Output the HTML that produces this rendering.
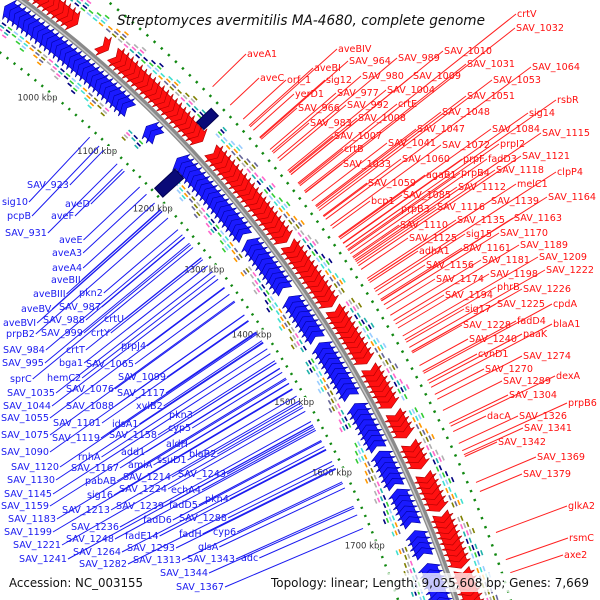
<!DOCTYPE html>
<html><head><meta charset="utf-8">
<style>
html,body{margin:0;padding:0;background:#fff;width:600px;height:600px;overflow:hidden;}
svg{display:block;overflow:hidden;}
.lbl{font-family:"DejaVu Sans","Liberation Sans",sans-serif;font-size:9.6px;}
</style></head>
<body>
<svg id="map" width="600" height="600" viewBox="0 0 600 600" xmlns="http://www.w3.org/2000/svg">
<defs><clipPath id="cl"><rect x="0" y="0" width="600" height="600"/></clipPath></defs>
<rect x="0" y="0" width="600" height="600" fill="#fff"/>
<g clip-path="url(#cl)">
<g id="features"></g>
<g id="genes"></g>
<path id="backbone" fill="none" stroke="#8a8a8a" stroke-width="6"/>
<path id="backbone-hi" fill="none" stroke="#c8c8c8" stroke-width="1.5"/>
<g id="ticks"></g>
<g id="labels"></g>
</g>
<text x="117" y="25" textLength="368" lengthAdjust="spacingAndGlyphs" font-family="DejaVu Sans, Liberation Sans, sans-serif" font-style="italic" font-size="14.5" fill="#111">Streptomyces avermitilis MA-4680, complete genome</text>
<rect x="5" y="573" width="142" height="19" fill="#fff" fill-opacity="0.75"/>
<text x="9" y="587" textLength="134" lengthAdjust="spacingAndGlyphs" font-family="DejaVu Sans, Liberation Sans, sans-serif" font-size="12" fill="#111">Accession: NC_003155</text>
<rect x="267" y="573" width="326" height="19" fill="#fff" fill-opacity="0.75"/>
<text x="271" y="587" textLength="318" lengthAdjust="spacingAndGlyphs" font-family="DejaVu Sans, Liberation Sans, sans-serif" font-size="12" fill="#111">Topology: linear; Length: 9,025,608 bp; Genes: 7,669</text>
</svg>
<script>
// ---- data ----
const genomeKbp = 9025.608;
const forwardBlocks = [[905,975],[1015,1022],[1035,1180],[1195,1330],[1336,1420],[1428,1500],[1508,1560],[1568,1600],[1608,1640],[1648,1690],[1698,1760],[1768,1810]];
const reverseBlocks = [[900,1095],[1128,1142],[1175,1300],[1308,1380],[1388,1450],[1458,1530],[1538,1600],[1608,1650],[1658,1700],[1708,1740],[1748,1810]];
const outerFeatureBlocks = [[900,1000],[1010,1160],[1185,1260],[1270,1420],[1430,1560],[1575,1700],[1710,1810]];
const innerFeatureBlocks = [[900,1080],[1110,1130],[1185,1320],[1330,1450],[1465,1560],[1580,1700],[1720,1810]];
const bigBlockKbp = [[1160,1172,'outer'],[1183,1198,'inner']];
const tickKbp = [1000,1100,1200,1300,1400,1500,1600,1700];
const tickLabels = ['1000 kbp','1100 kbp','1200 kbp','1300 kbp','1400 kbp','1500 kbp','1600 kbp','1700 kbp'];
const redNames = ['crtV','SAV_1032','aveBIV','SAV_1010','SAV_964','SAV_989','aveBI','SAV_1031','SAV_1064','aveA1','aveC','orf_1','sig12','SAV_980','SAV_1009','SAV_1053','yerD1','SAV_977','SAV_1004','SAV_1051','rsbR','SAV_966','SAV_992','crtE','SAV_1048','sig14','SAV_983','SAV_1008','SAV_1007','SAV_1047','SAV_1084','SAV_1115','crtB','SAV_1041','SAV_1072','prpI2','SAV_1033','SAV_1060','prpF','fadD3','SAV_1121','SAV_1059','agaB1','prpB4','SAV_1118','clpP4','bcp1','SAV_1085','SAV_1112','melC1','prpB3','SAV_1116','SAV_1139','SAV_1164','SAV_1110','SAV_1135','SAV_1163','SAV_1125','sig15','SAV_1170','adhA1','SAV_1161','SAV_1189','SAV_1156','SAV_1181','SAV_1209','SAV_1174','SAV_1198','SAV_1222','SAV_1194','phrB','SAV_1226','SAV_1225','cpdA','sig17','SAV_1228','fadD4','blaA1','SAV_1240','paaK','cvnD1','SAV_1274','SAV_1270','dexA','SAV_1289','SAV_1304','prpB6','dacA','SAV_1326','SAV_1341','SAV_1342','SAV_1369','SAV_1379','glkA2','rsmC','axe2'];
const redX = [517,516,338,444,349,398,314,467,532,247,260,287,326,362,413,493,295,337,387,467,557,298,347,398,442,529,310,358,334,417,492,542,344,388,442,500,343,402,463,488,522,368,426,461,496,557,371,403,458,517,401,437,491,548,400,457,514,409,466,500,419,463,520,426,482,539,436,490,546,445,497,523,497,553,465,463,517,553,469,523,478,523,485,556,503,509,568,487,519,524,498,537,523,568,569,564];
const redY = [17,31,52,54,64,61,71,67,70,57,81,83,83,79,79,83,97,96,93,99,103,111,108,107,115,116,126,121,139,132,132,136,152,146,148,147,167,162,162,162,159,186,178,176,173,175,204,198,190,187,212,210,204,200,228,223,221,241,237,236,254,251,248,268,263,260,282,277,273,298,290,292,307,307,312,328,324,327,342,337,357,359,372,379,384,398,406,419,419,431,445,460,477,509,541,558];
const blueNames = ['SAV_923','sig10','aveD','pcpB','aveF','SAV_931','aveE','aveA3','aveA4','aveBII','aveBIII','pkn2','aveBV','SAV_987','aveBVI','SAV_988','crtU','prpB2','SAV_999','crtY','SAV_984','crtT','prpJ4','SAV_995','bga1','SAV_1065','sprC','hemC2','SAV_1099','SAV_1035','SAV_1076','SAV_1117','SAV_1044','SAV_1088','xylB2','SAV_1055','SAV_1101','idsA1','pkn3','SAV_1075','SAV_1119','SAV_1158','cyp5','SAV_1090','rnhA','add1','aldH','SAV_1120','SAV_1167','amiA','ssuD1','blaB2','SAV_1130','pabAB','SAV_1214','SAV_1243','SAV_1145','sig16','SAV_1224','echA4','SAV_1159','SAV_1239','fadD5','pkn4','SAV_1213','SAV_1183','fadD6','SAV_1288','SAV_1236','SAV_1199','SAV_1248','fadE14','fadH','cyp6','SAV_1221','SAV_1293','glsA','SAV_1264','SAV_1241','SAV_1282','SAV_1313','SAV_1343','adc','SAV_1344','SAV_1367'];
const blueX = [27,2,65,7,51,5,59,52,52,51,33,79,21,59,3,43,104,6,41,91,3,66,121,2,59,86,10,47,118,7,66,117,3,66,136,1,53,112,169,1,52,109,168,1,78,121,166,11,71,128,157,189,7,85,123,178,4,87,119,171,1,116,169,205,62,8,143,179,71,4,66,125,179,213,13,127,198,73,19,79,133,187,241,160,176];
const blueY = [188,205,207,219,219,236,243,256,271,283,297,296,312,310,326,323,322,337,336,336,353,353,349,366,366,367,382,381,380,396,392,396,409,409,409,421,426,427,418,438,441,438,431,455,460,455,447,470,471,468,463,457,483,484,480,477,497,498,492,493,509,509,508,502,513,522,523,521,530,535,542,539,537,535,548,551,550,555,562,567,563,562,561,576,590];

// ---- geometry ----
const CX = -700, CY = 980, R = 1217;
const NS = 'http://www.w3.org/2000/svg';
function ang(k){ return k*360/genomeKbp*Math.PI/180; }
function pt(r,k){ const a=ang(k); return [CX + r*Math.sin(a), CY - r*Math.cos(a)]; }
function arcD(r,k1,k2){ const p=pt(r,k1), q=pt(r,k2); return `M${p[0].toFixed(2)},${p[1].toFixed(2)} A${r},${r} 0 0 1 ${q[0].toFixed(2)},${q[1].toFixed(2)}`; }
function mk(tag, parent){ const e=document.createElementNS(NS,tag); parent.appendChild(e); return e; }

document.getElementById('backbone').setAttribute('d', arcD(R, 880, 1840));
document.getElementById('backbone-hi').setAttribute('d', arcD(R-1, 880, 1840));

const genesG = document.getElementById('genes');
const featG = document.getElementById('features');

function arrow(r1, r2, k1, k2, dir, fill, stroke, name){
  const rm=(r1+r2)/2, h=(k2-k1)*0.55;
  let pts;
  if(dir>0){
    pts=[pt(r2,k1),pt(r2,k2-h),pt(r2+4,k2-h),pt(rm,k2),pt(r1-4,k2-h),pt(r1,k2-h),pt(r1,k1),pt(rm,k1+h*0.7)];
  } else {
    pts=[pt(r2,k2),pt(r2,k1+h),pt(r2+4,k1+h),pt(rm,k1),pt(r1-4,k1+h),pt(r1,k1+h),pt(r1,k2),pt(rm,k2-h*0.7)];
  }
  const p=mk('polygon', genesG);
  p.setAttribute('points', pts.map(q=>q[0].toFixed(1)+','+q[1].toFixed(1)).join(' '));
  p.setAttribute('fill', fill);
  p.setAttribute('stroke', stroke);
  p.setAttribute('stroke-width','0.6');
  
  
}

forwardBlocks.forEach(b=>{
  for(let k=b[0]; k+6<=b[1]+0.01; k+=7){
    arrow(R+7, R+23, k, k+13, 1, '#ff1010', '#b00000', 'forward-gene');
  }
});
reverseBlocks.forEach(b=>{
  for(let k=b[1]-13; k>=b[0]-6; k-=7){
    arrow(R-23, R-7, k, k+13, -1, '#1a1aff', '#0000a0', 'reverse-gene');
  }
});

bigBlockKbp.forEach(b=>{
  const r1 = b[2]==='outer' ? R+24 : R-52;
  const r2 = b[2]==='outer' ? R+44 : R-24;
  const p1=pt(r1,b[0]), p2=pt(r2,b[0]), p3=pt(r2,b[1]), p4=pt(r1,b[1]);
  const p=mk('polygon', genesG);
  p.setAttribute('points', [p1,p2,p3,p4].map(q=>q[0].toFixed(1)+','+q[1].toFixed(1)).join(' '));
  p.setAttribute('fill','#0a0a78');
  p.setAttribute('stroke','#000050');
  
  
});

const palette = ['#40e0d0','#000080','#b0b0b0','#ff9900','#33cc33','#ff66cc','#666699','#99ccff','#20b2aa','#808000'];
let ci = 0;
function featureTrack(blocks, rBase, sign, name){
  blocks.forEach(b=>{
    for(let k=b[0]; k<b[1]; k+=9){
      const n = 2 + (ci % 3);
      for(let j=0;j<n;j++){
        const r = rBase + sign*j*3.2;
        const l=mk('path', featG);
        l.setAttribute('d', arcD(r, k, k+6));
        l.setAttribute('stroke', palette[(ci*3+j*7)%palette.length]);
        l.setAttribute('stroke-width','1.6');
        l.setAttribute('fill','none');
        
        
      }
      ci++;
    }
  });
}
featureTrack(outerFeatureBlocks, R+30, 1, 'outer-feature');
featureTrack(innerFeatureBlocks, R-30, -1, 'inner-feature');

[[R+52],[R-55]].forEach(rr=>{
  for(let k=895;k<1830;k+=11){
    const d=mk('path', featG);
    d.setAttribute('d', arcD(rr[0], k, k+2.6));
    d.setAttribute('stroke','#118811');
    d.setAttribute('stroke-width','2.5');
    d.setAttribute('fill','none');
    
    
  }
});

const tG = document.getElementById('ticks');
tickKbp.forEach((k,i)=>{
  const p=pt(R-67,k);
  const t=mk('text', tG);
  t.setAttribute('x', p[0].toFixed(1));
  t.setAttribute('y', (p[1]+3).toFixed(1));
  t.setAttribute('text-anchor','middle');
  t.setAttribute('font-family','DejaVu Sans, Liberation Sans, sans-serif');
  t.setAttribute('font-size','8.5');
  t.setAttribute('fill','#333');
  t.setAttribute('stroke','#fff');
  t.setAttribute('stroke-width','2');
  t.setAttribute('paint-order','stroke');
  t.textContent = tickLabels[i];
  
  
});

const lG = document.getElementById('labels');
function ray(px,py,r){ const dx=px-CX, dy=py-CY, L=Math.hypot(dx,dy); return [CX+dx/L*r, CY+dy/L*r]; }
redNames.forEach((nm,i)=>{
  const x=redX[i], y=redY[i];
  const e=ray(x-1,y-3,R+60);
  const l=mk('line', lG);
  l.setAttribute('x1',x-1); l.setAttribute('y1',y-3);
  l.setAttribute('x2',e[0].toFixed(1)); l.setAttribute('y2',e[1].toFixed(1));
  l.setAttribute('stroke','#ff2020'); l.setAttribute('stroke-width','1');
  
  
});
blueNames.forEach((nm,i)=>{
  const t=mk('text', lG);
  t.setAttribute('x',blueX[i]); t.setAttribute('y',blueY[i]);
  t.setAttribute('class','lbl'); t.setAttribute('fill','#1a1af0');
  t.textContent=nm;
  
  
  const w=t.getComputedTextLength();
  const sx=blueX[i]+w+1, sy=blueY[i]-3;
  const e=ray(sx,sy,R-62);
  const l=mk('line', lG);
  l.setAttribute('x1',sx.toFixed(1)); l.setAttribute('y1',sy);
  l.setAttribute('x2',e[0].toFixed(1)); l.setAttribute('y2',e[1].toFixed(1));
  l.setAttribute('stroke','#1a1af0'); l.setAttribute('stroke-width','1');
  
  
});
redNames.forEach((nm,i)=>{
  const t=mk('text', lG);
  t.setAttribute('x',redX[i]); t.setAttribute('y',redY[i]);
  t.setAttribute('class','lbl'); t.setAttribute('fill','#ff1010');
  t.textContent=nm;
  
  
});
</script>
</body></html>
